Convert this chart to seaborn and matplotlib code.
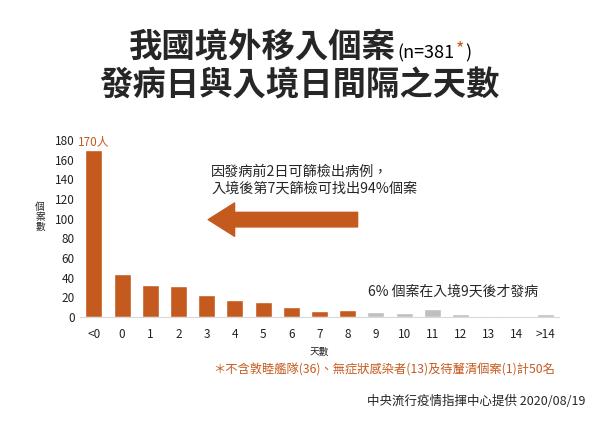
import pandas as pd
import matplotlib.pyplot as plt
import seaborn as sns
from matplotlib.patches import FancyArrowPatch

# ==========================================
# DATA
# ==========================================

days = ["<0", "0", "1", "2", "3", "4", "5", "6", "7", "8",
        "9", "10", "11", "12", "13", "14", ">14"]
cases = [170, 44, 33, 32, 23, 17, 15, 10, 6, 7,
         5, 4, 8, 3, 1, 0, 3]
group = ["within"] * 10 + ["after"] * 7

ORANGE = "#C55A1E"
GRAY = "#BFBFBF"

df = pd.DataFrame({"days": days, "cases": cases, "group": group})

# ==========================================
# PLOT
# ==========================================

sns.set_style("white")
plt.rcParams["font.family"] = ["Noto Sans CJK TC", "DejaVu Sans"]

fig = plt.figure(figsize=(6, 4.24), dpi=100)
ax = fig.add_axes([0.133, 0.252, 0.799, 0.418])

sns.barplot(
    data=df, x="days", y="cases", hue="group",
    palette={"within": ORANGE, "after": GRAY}, saturation=1,
    width=0.6, dodge=False, legend=False, ax=ax
)

ax.set_xlim(-0.5, 16.5)
ax.set_ylim(0, 180)
ax.set_yticks(range(0, 181, 20))
ax.tick_params(axis="both", labelsize=8.5, length=0, colors="#222222")
ax.tick_params(axis="x", pad=8)
sns.despine(ax=ax, left=True, top=True, right=True)
ax.spines["bottom"].set_color("#D9D9D9")
ax.set_xlabel("天數", fontsize=7, labelpad=4)
ax.set_ylabel("")

# stacked y label
for i, ch in enumerate("個案數"):
    fig.text(0.067, 0.512 - i * 0.024, ch, fontsize=7,
             ha="center", va="center")

ax.text(0, cases[0] + 2, "170人", color=ORANGE, fontsize=8.5,
        ha="center", va="bottom", clip_on=False)

# ==========================================
# TITLES
# ==========================================

fig.text(0.66, 0.887, "我國境外移入個案", fontsize=24, fontweight="bold",
         ha="right", va="center")
fig.canvas.draw()
renderer = fig.canvas.get_renderer()
inv = fig.transFigure.inverted()

x = 0.662
for part, col, dy in [("(n=381", "black", -0.012), ("*", ORANGE, -0.004),
                      (")", "black", -0.012)]:
    t = fig.text(x, 0.887 + dy, part, fontsize=13, color=col,
                 ha="left", va="center")
    bb = t.get_window_extent(renderer)
    x = inv.transform((bb.x1, bb.y1))[0] + 0.002

fig.text(0.5, 0.797, "發病日與入境日間隔之天數", fontsize=24,
         fontweight="bold", ha="center", va="center")

# ==========================================
# ANNOTATIONS
# ==========================================

fig.text(0.352, 0.575, "因發病前2日可篩檢出病例，\n入境後第7天篩檢可找出94%個案",
         fontsize=10.2, ha="left", va="center", linespacing=1.3)
fig.patches.append(FancyArrowPatch(
    (0.596, 0.482), (0.347, 0.482), transform=fig.transFigure,
    arrowstyle="simple,head_length=1.9,head_width=2.4,tail_width=1.05",
    mutation_scale=10, color=ORANGE, shrinkA=0, shrinkB=0
))

fig.text(0.613, 0.313, "6% 個案在入境9天後才發病", fontsize=10,
         ha="left", va="center")

fig.text(0.925, 0.127, "＊不含敦睦艦隊(36)、無症狀感染者(13)及待釐清個案(1)計50名",
         fontsize=8.8, color=ORANGE, ha="right", va="center")
fig.text(0.975, 0.052, "中央流行疫情指揮中心提供 2020/08/19",
         fontsize=9, ha="right", va="center")

plt.savefig("out.png", dpi=100)
